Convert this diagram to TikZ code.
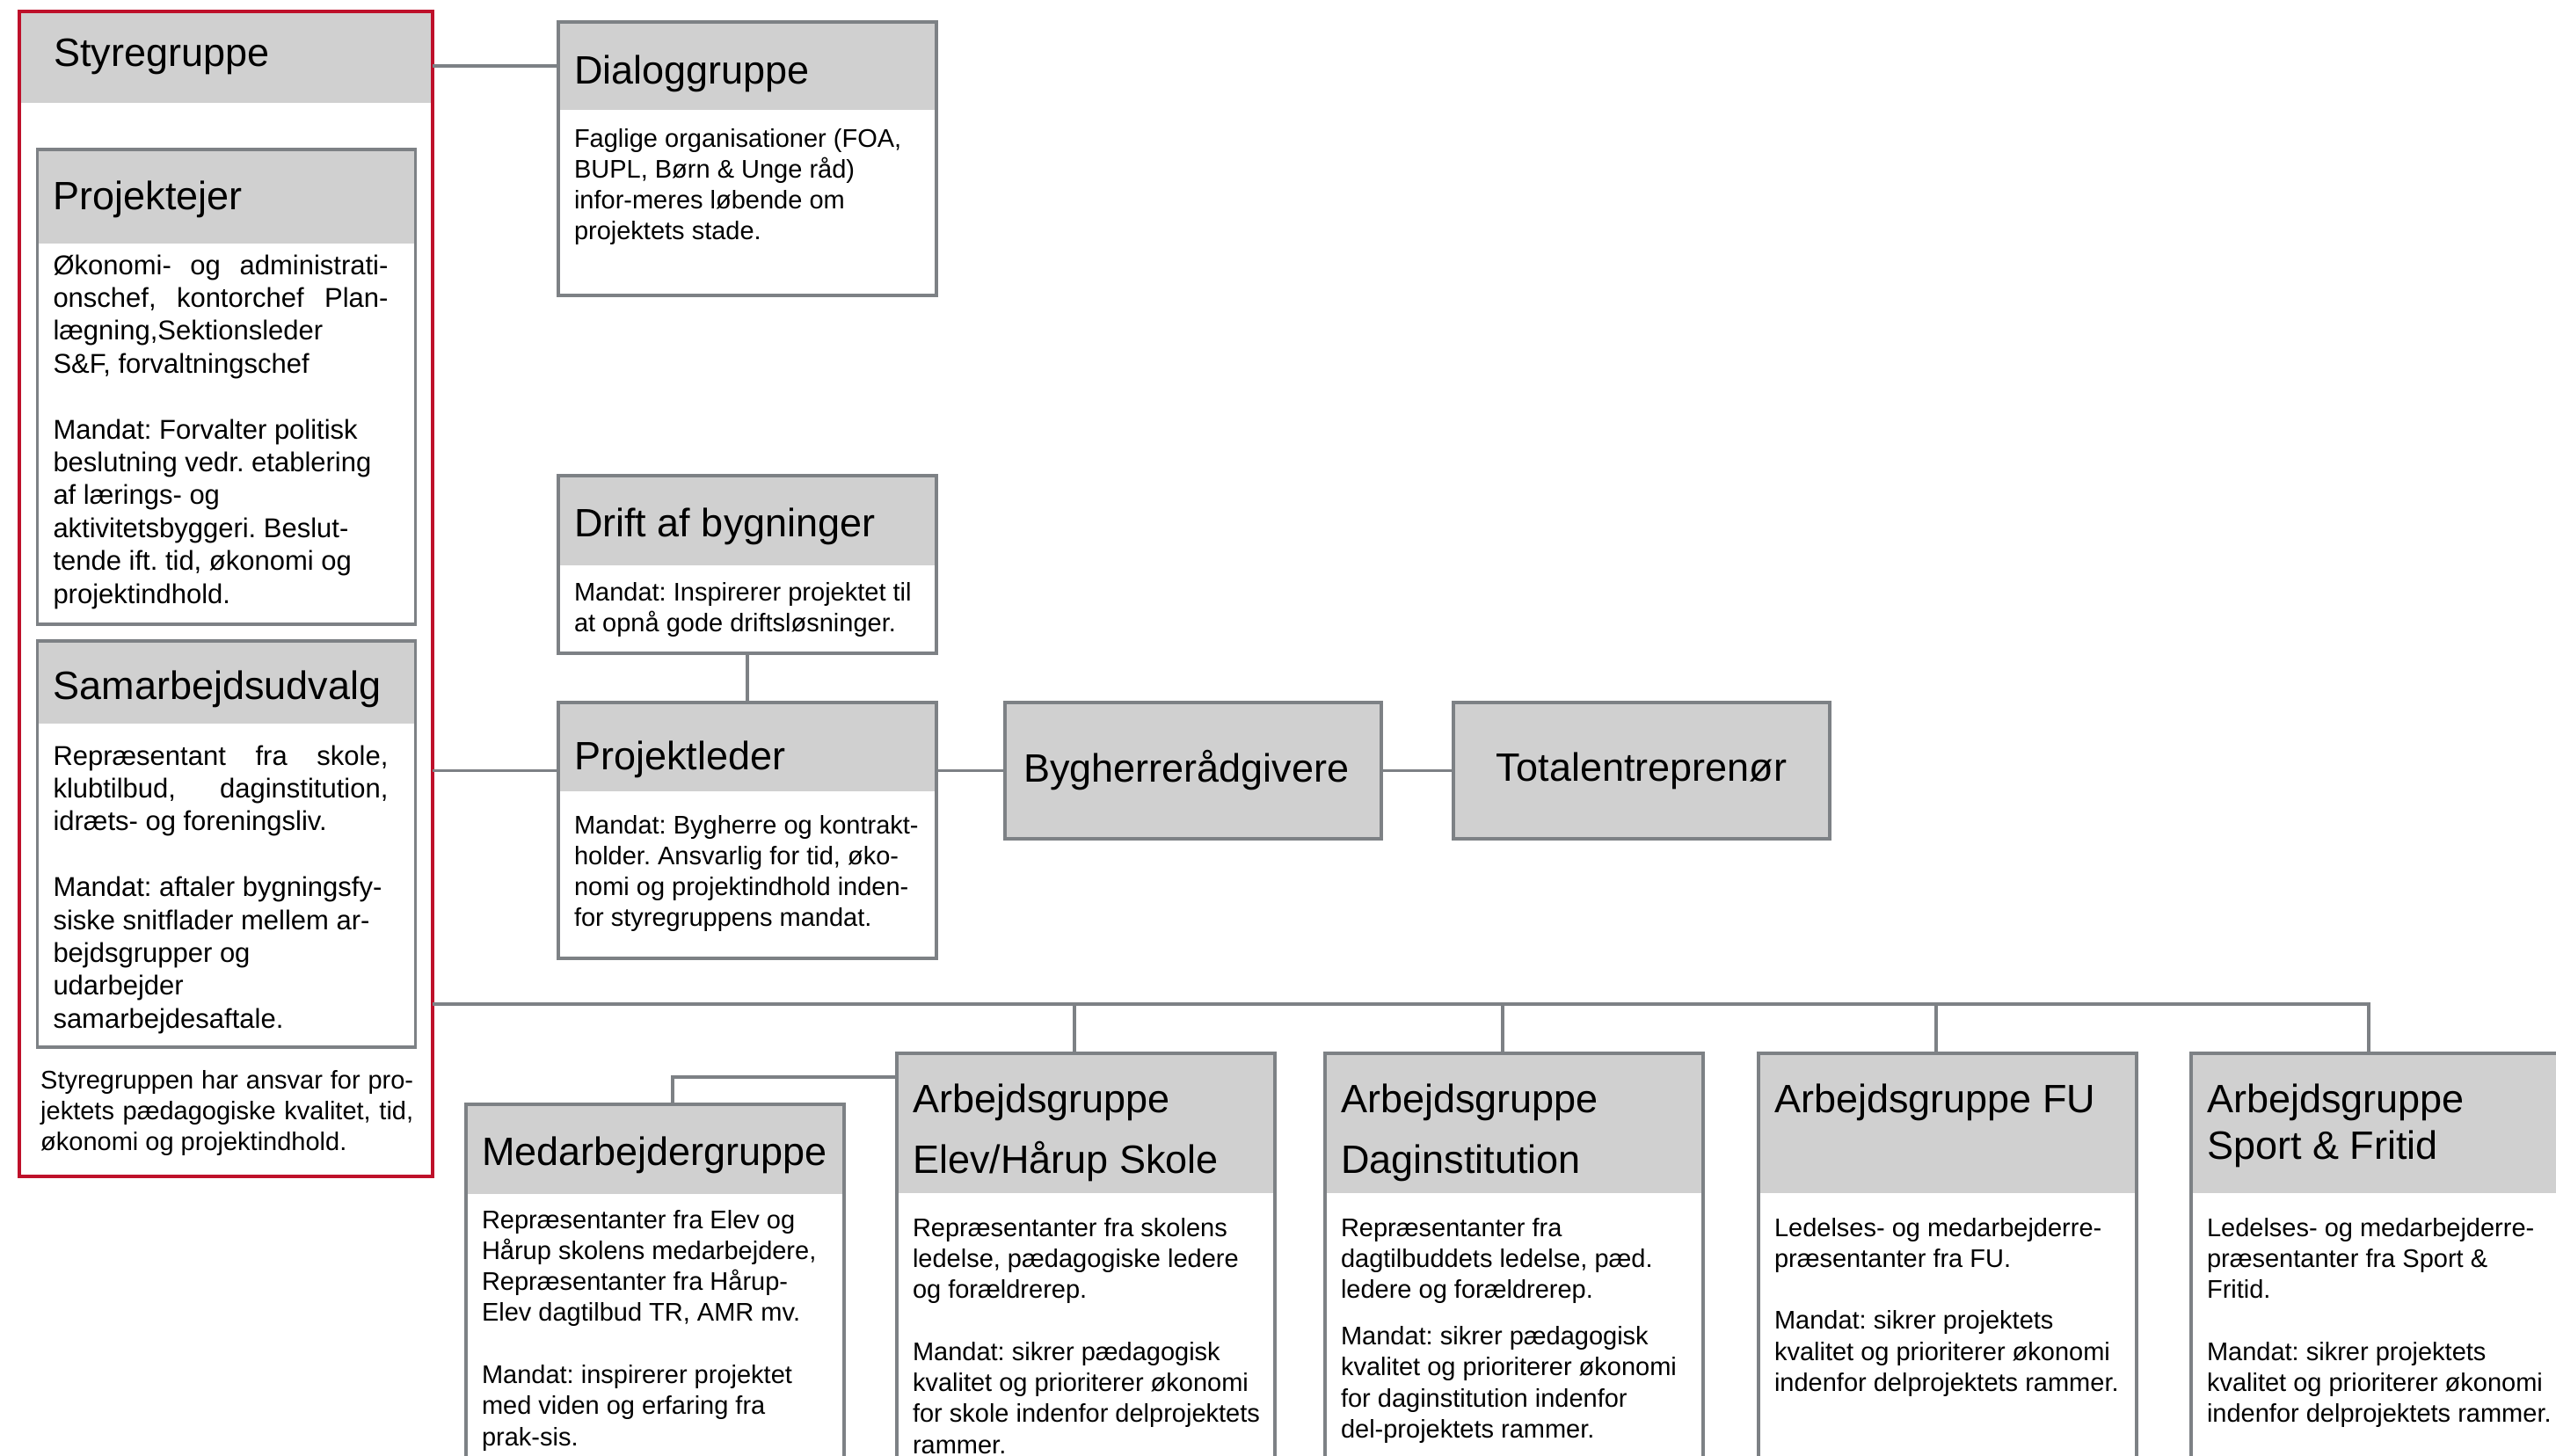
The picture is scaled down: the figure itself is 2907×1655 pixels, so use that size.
\documentclass[tikz,border=0pt]{standalone}
\usepackage{fontspec}
\setmainfont{Liberation Sans}
\usetikzlibrary{positioning}
\definecolor{hdrgray}{RGB}{208,208,208}
\definecolor{linegray}{RGB}{125,129,133}
\definecolor{rimred}{RGB}{190,16,42}
\frenchspacing
\newcommand\ttlfont{\fontsize{45}{53}\selectfont}
\newcommand\txtfont{\fontsize{29}{35.3}\selectfont}
\newcommand\lcfont{\fontsize{31}{37.4}\selectfont}
\newcommand\jline[2]{\makebox[#1][s]{\spaceskip=0pt\relax#2}}

\begin{document}
\begin{tikzpicture}[
    x=1pt, y=-1pt,
    every node/.style={execute at begin node={\spaceskip=0pt\relax}},
    grphead/.style 2 args={fill=hdrgray, anchor=north west, inner xsep=18pt, inner ysep=0pt,
                outer sep=0pt, text width=394pt, align=left, font=\ttlfont,
                text height=#1pt, text depth=#2pt},
    grpbody/.style 2 args={fill=white, inner xsep=18pt, inner ysep=0pt, outer sep=0pt,
                text width=394pt, align=left, font=\txtfont,
                text height=#1pt, text depth=#2pt},
    solo/.style={fill=hdrgray, draw=linegray, line width=3.5pt, inner xsep=21pt,
                inner ysep=0pt, outer sep=0pt, text width=386pt, minimum height=155pt,
                font=\ttlfont},
    rim/.style={draw=rimred, line width=4.7pt, inner sep=0pt, outer sep=0pt},
    frame/.style={draw=linegray, line width=3.5pt},
    conn/.style={draw=linegray, line width=3.5pt}
]
\useasboundingbox (0,0) rectangle (2907,1655);

% styregruppe column
\node[grphead={60}{42}, text width=392pt, inner xsep=37pt] (styre-h) at (24,15) {Styregruppe};
\node[grphead={68}{39}] (pe) at (42.5,170) {Projektejer};
\node[grpbody={35}{398}, font=\lcfont, below=0pt of pe] (pe-b)
    {\jline{381pt}{Økonomi- og administrati-}\\
     \jline{381pt}{onschef, kontorchef Plan-}\\
     lægning,Sektionsleder\\
     S\&F, forvaltningschef\\[37.4pt]
     Mandat: Forvalter politisk\\
     beslutning vedr. etablering\\
     af lærings- og\\
     aktivitetsbyggeri. Beslut-\\
     tende ift. tid, økonomi og\\
     projektindhold.};
\draw[frame] (pe.north west) rectangle (pe-b.south east);
\node[grphead={66}{28}, below=19pt of pe-b] (sa) {Samarbejdsudvalg};
\node[grpbody={47}{321}, font=\lcfont, below=0pt of sa] (sa-b)
    {\jline{381pt}{Repræsentant fra skole,}\\
     \jline{381pt}{klubtilbud, daginstitution,}\\
     idræts- og foreningsliv.\\[37.4pt]
     Mandat: aftaler bygningsfy-\\
     siske snitflader mellem ar-\\
     bejdsgrupper og\\
     udarbejder\\
     samarbejdesaftale.};
\draw[frame] (sa.north west) rectangle (sa-b.south east);
\node[anchor=base west, inner sep=0pt, font=\txtfont, text width=424pt, align=left] (note) at (46,1238)
    {\jline{424pt}{Styregruppen har ansvar for pro-}\\
     \jline{424pt}{jektets pædagogiske kvalitet, tid,}\\
     økonomi og projektindhold.};
\node[rim, minimum width=470pt, minimum height=1325pt, anchor=north west] (styre) at (22,13) {};

% middle column
\node[grphead={70}{30}] (dia) at (635,25) {Dialoggruppe};
\node[grpbody={42}{169}, below=0pt of dia] (dia-b)
    {Faglige organisationer (FOA,\\BUPL, Børn \& Unge råd)\\infor-meres løbende om\\projektets stade.};
\draw[frame] (dia.north west) rectangle (dia-b.south east);

\node[grphead={69}{33}] (dr) at (635,541) {Drift af bygninger};
\node[grpbody={40}{60}, below=0pt of dr] (dr-b)
    {Mandat: Inspirerer projektet til\\at opnå gode driftsløsninger.};
\draw[frame] (dr.north west) rectangle (dr-b.south east);

\node[grphead={76}{25}, below=56pt of dr-b] (pl) {Projektleder};
\node[grpbody={48}{142}, below=0pt of pl] (pl-b)
    {\mbox{Mandat: Bygherre og kontrakt-}\\holder. Ansvarlig for tid, øko-\\nomi og projektindhold inden-\\for styregruppens mandat.};
\draw[frame] (pl.north west) rectangle (pl-b.south east);

\node[solo, align=left, right=78pt of pl.north east, anchor=north west] (byg) {Bygherrerådgivere};
\node[solo, align=center, right=82pt of byg] (total) {Totalentreprenør};

% arbejdsgrupper
\node[grphead={69}{33}] (me) at (530,1256) {Medarbejdergruppe};
\node[grpbody={39}{303}, below=0pt of me] (me-b)
    {Repræsentanter fra Elev og\\Hårup skolens medarbejdere,\\Repræsentanter fra Hårup-\\Elev dagtilbud TR, AMR mv.\\[35.3pt]
     Mandat: inspirerer projektet\\med viden og erfaring fra\\prak-sis.};
\draw[frame] (me.north west) rectangle (me-b.south east);

\node[grphead={67}{92}] (el) at (1020,1198) {Arbejdsgruppe\\[16pt]Elev/Hårup Skole};
\node[grpbody={49}{300}, below=0pt of el] (el-b)
    {Repræsentanter fra skolens\\ledelse, pædagogiske ledere\\og forældrerep.\\[35.3pt]
     Mandat: sikrer pædagogisk\\kvalitet og prioriterer økonomi\\\mbox{for skole indenfor delprojektets}\\rammer.};
\draw[frame] (el.north west) rectangle (el-b.south east);

\node[grphead={67}{92}, right=57pt of el] (dag) {Arbejdsgruppe\\[16pt]Daginstitution};
\node[grpbody={49}{300}, below=0pt of dag] (dag-b)
    {Repræsentanter fra\\dagtilbuddets ledelse, pæd.\\ledere og forældrerep.\\[17.6pt]
     Mandat: sikrer pædagogisk\\kvalitet og prioriterer økonomi\\for daginstitution indenfor\\del-projektets rammer.};
\draw[frame] (dag.north west) rectangle (dag-b.south east);

\node[grphead={67}{92}, right=63pt of dag] (fu) {Arbejdsgruppe FU};
\node[grpbody={49}{300}, below=0pt of fu] (fu-b)
    {Ledelses- og medarbejderre-\\præsentanter fra FU.\\[35.3pt]
     Mandat: sikrer projektets\\kvalitet og prioriterer økonomi\\\mbox{indenfor delprojektets rammer.}};
\draw[frame] (fu.north west) rectangle (fu-b.south east);

\node[grphead={67}{92}, right=62pt of fu] (sp) {Arbejdsgruppe\\Sport \& Fritid};
\node[grpbody={49}{300}, below=0pt of sp] (sp-b)
    {Ledelses- og medarbejderre-\\præsentanter fra Sport \&\\Fritid.\\[35.3pt]
     Mandat: sikrer projektets\\kvalitet og prioriterer økonomi\\\mbox{indenfor delprojektets rammer.}};
\draw[frame] (sp.north west) rectangle (sp-b.south east);

% connectors
\coordinate (bus) at (0,1142);
\draw[conn] (styre.east |- dia.west) -- (dia.west);
\draw[conn] (dr-b) -- (pl);
\draw[conn] (styre.east |- byg.west) -- (pl.west |- byg.west);
\draw[conn] (pl.east |- byg.west) -- (byg.west);
\draw[conn] (byg) -- (total);
\draw[conn] (styre.east |- bus) -| ([xshift=-13pt]sp.north);
\foreach \g in {el,dag,fu}
    \draw[conn] ([xshift=-13pt]\g.north) -- ([xshift=-13pt]\g.north |- bus);
\draw[conn] ([xshift=20pt]me.north) |- ([yshift=-27pt]el.north west);
\end{tikzpicture}
\end{document}
